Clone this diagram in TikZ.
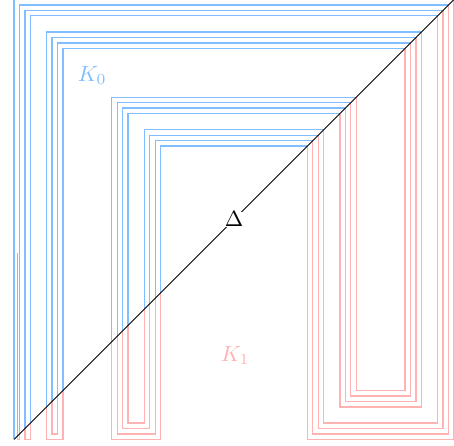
\documentclass[tikz,border=0pt]{standalone}
\usepackage{amsmath,amssymb}
\usepackage{xcolor}
\usepackage{tikz}
\usetikzlibrary{calc}

\definecolor{kzero}{RGB}{128,190,255}
\definecolor{kone}{RGB}{255,178,178}

\begin{document}
\begin{tikzpicture}[x=0.08642cm,y=0.08642cm,
  kzeroline/.style={draw=kzero,semithick},
  koneline/.style={draw=kone,semithick}]
\useasboundingbox (-2.58,-1.2) rectangle (81,80.9);
% upper pieces
\foreach \a in {0,1,2,3,6,7,8,9,18,19,20,21,24,25,26,27}
  \draw[kzeroline] (\a,\a) -- (\a,81-\a) -- (81-\a,81-\a);
\draw[kzeroline] (2/3,2/3) -- (2/3,34.4);
% lower pieces: point / start of block / sum of paired points
\foreach \a/\b/\s in {54/54/135,55/54/135,56/54/135,57/54/135,
                      60/54/135,61/54/135,62/54/135,63/54/135,
                      18/18/45,19/18/45,20/18/45,21/18/45,
                      6/6/15,7/6/15,2/2/5,0.6667/0.6667/1.6667}
  \draw[koneline] (\a,\a) -- (\a,\a-\b) -- (\s-\a,\a-\b) -- (\s-\a,\s-\a);
% diagonal
\coordinate (O) at (0,0);
\coordinate (T) at (81,81);
\draw (O) -- (T) node[midway,fill=white,inner sep=0pt] (delta) {$\Delta$};
\node[text=kzero] (K0) at (14.4,67) {$K_0$};
\node[text=kone] (K1) at (40.7,15.5) {$K_1$};
\end{tikzpicture}
\end{document}
